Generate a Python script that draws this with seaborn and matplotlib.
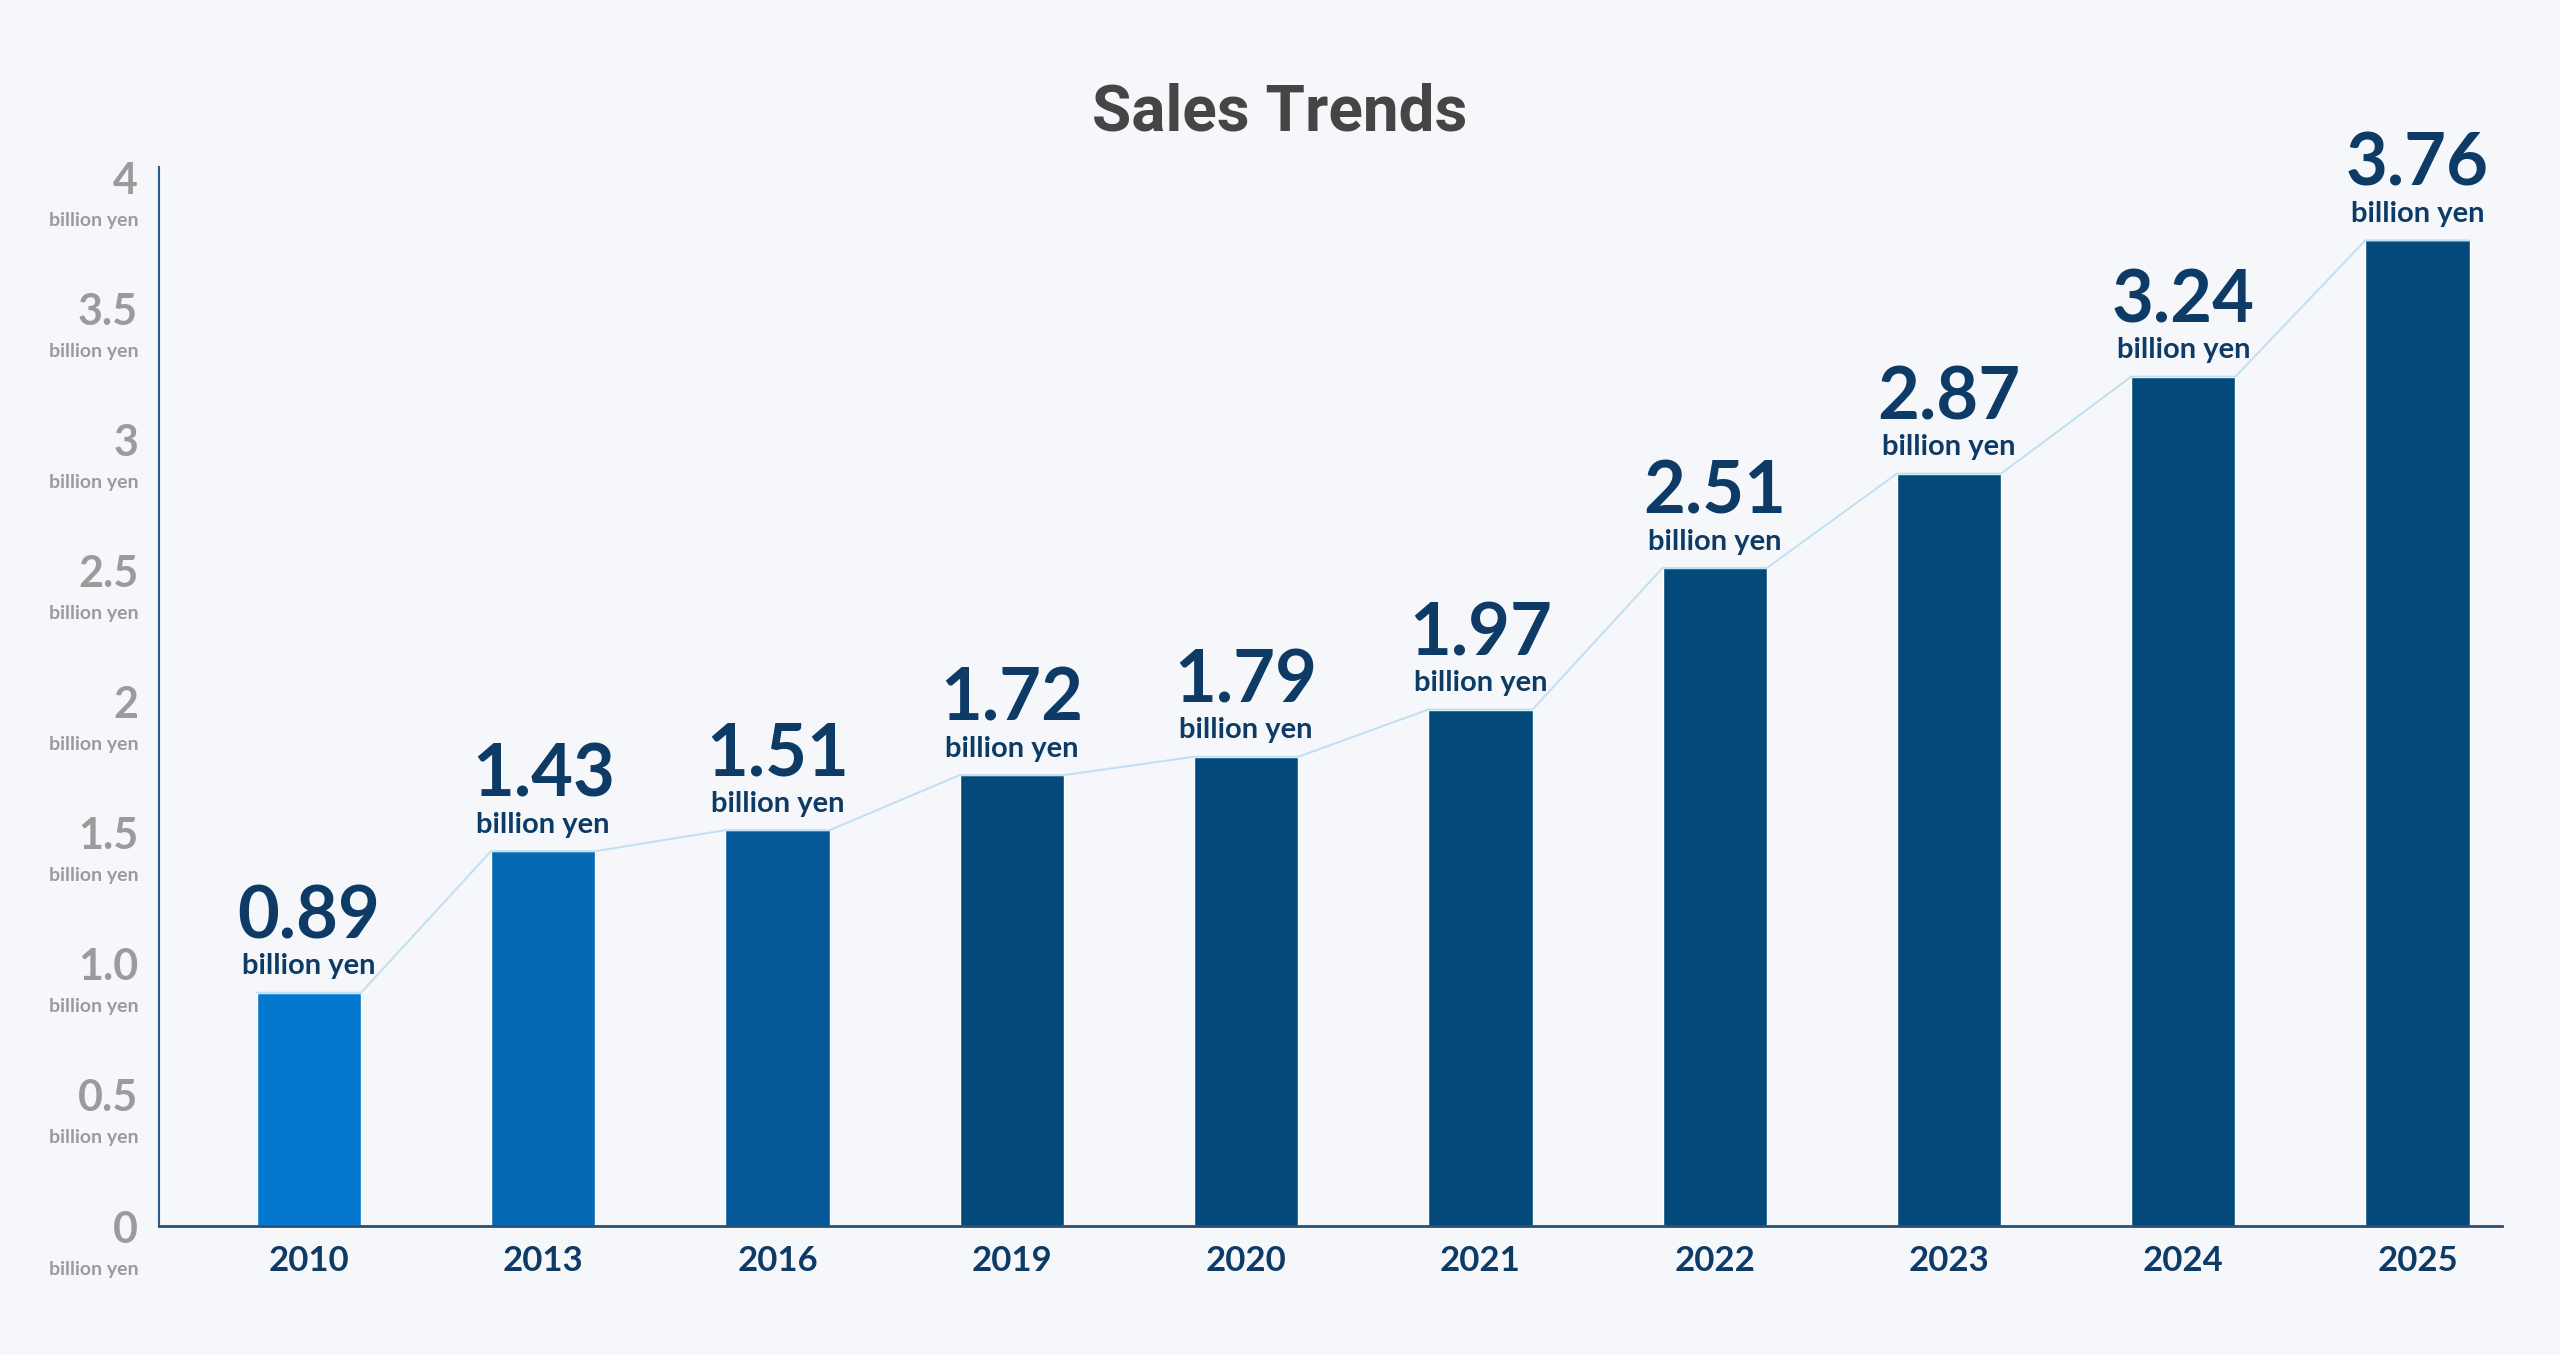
import matplotlib
matplotlib.use("Agg")
import matplotlib.pyplot as plt
import seaborn as sns
import pandas as pd
import numpy as np

# ---- data ----
years = ["2010", "2013", "2016", "2019", "2020", "2021", "2022", "2023", "2024", "2025"]
sales = [0.89, 1.43, 1.51, 1.72, 1.79, 1.97, 2.51, 2.87, 3.24, 3.76]
bar_colors = ["#0477CF", "#0669B4", "#055897", "#03497A", "#03497A",
              "#03497A", "#03497A", "#03497A", "#03497A", "#03497A"]
ytick_values = [0, 0.5, 1.0, 1.5, 2, 2.5, 3, 3.5, 4]
ytick_labels = ["0", "0.5", "1.0", "1.5", "2", "2.5", "3", "3.5", "4"]
unit = "billion yen"
title = "Sales Trends"

BG = "#F5F7FA"
NAVY = "#0D3B66"
GRAY = "#9B9B9B"

sns.set_theme(style="white")
plt.rcParams["font.family"] = ["Lato", "DejaVu Sans"]

df = pd.DataFrame({"year": years, "sales": sales})

fig = plt.figure(figsize=(25.6, 13.55), dpi=100, facecolor=BG)
ax = fig.add_axes([0.0621, 0.0952, 0.9152, 0.7816])
ax.set_facecolor(BG)

bw = 0.445
sns.barplot(data=df, x="year", y="sales", hue="year", palette=bar_colors,
            legend=False, width=bw, saturation=1, ax=ax, zorder=2)

# connecting line through bar top corners
xs, ys = [], []
for i, v in enumerate(sales):
    xs += [i - bw / 2, i + bw / 2]
    ys += [v, v]
ax.plot(xs, ys, color="#BFE0F2", lw=1.4, zorder=3)

ax.set_xlim(-0.64, len(years) - 1 + 0.36)
ax.set_ylim(0, 4.04)

# spines
for s in ["top", "right"]:
    ax.spines[s].set_visible(False)
ax.spines["left"].set_color("#2B5C8A")
ax.spines["left"].set_linewidth(1.5)
ax.spines["bottom"].set_color("#2B4F73")
ax.spines["bottom"].set_linewidth(2)

ax.set_xlabel("")
ax.set_ylabel("")

# y ticks
ax.set_yticks(ytick_values)
ax.set_yticklabels(ytick_labels)
ax.tick_params(axis="y", length=0, pad=15, labelsize=31, labelcolor=GRAY)
for t in ax.get_yticklabels():
    t.set_fontweight("bold")
for v in ytick_values:
    ax.annotate(unit, xy=(0, v), xycoords=("axes fraction", "data"),
                xytext=(-15, -31), textcoords="offset points",
                ha="right", va="center", fontsize=14, color=GRAY,
                fontweight="bold", annotation_clip=False)

# x ticks
ax.tick_params(axis="x", length=0, pad=14, labelsize=25, labelcolor=NAVY)
for t in ax.get_xticklabels():
    t.set_fontweight("bold")

# value labels
for i, v in enumerate(sales):
    ax.annotate(f"{v:.2f}", xy=(i, v), xytext=(0, 54), textcoords="offset points",
                ha="center", va="center", fontsize=52, fontweight="bold",
                color=NAVY, zorder=4)
    ax.annotate(unit, xy=(i, v), xytext=(0, 19), textcoords="offset points",
                ha="center", va="center", fontsize=21, fontweight="bold",
                color=NAVY, zorder=4)

fig.text(0.5, 1 - 113 / 1355, title, ha="center", va="center",
         fontsize=46, fontweight="semibold", color="#454545",
         family=["Roboto", "DejaVu Sans"])

fig.savefig("out.png", dpi=100, facecolor=BG)
